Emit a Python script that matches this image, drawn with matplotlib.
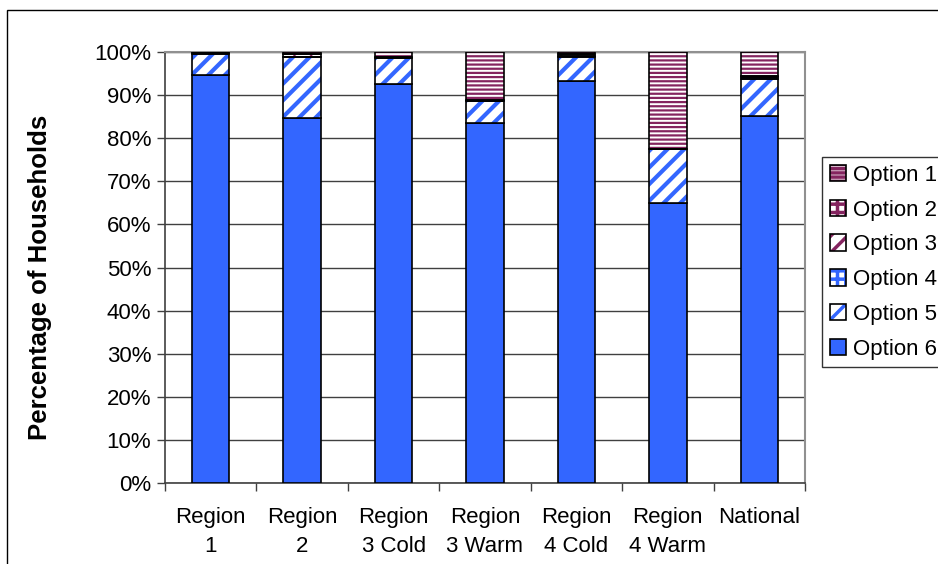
import matplotlib
matplotlib.use("Agg")
import matplotlib.pyplot as plt
from matplotlib.patches import Patch, Rectangle
import numpy as np

plt.rcParams['font.family'] = ['Liberation Sans', 'DejaVu Sans']
plt.rcParams['hatch.linewidth'] = 2.5

categories = ["Region\n1", "Region\n2", "Region\n3 Cold", "Region\n3 Warm",
              "Region\n4 Cold", "Region\n4 Warm", "National"]
series_names = ["Option 1", "Option 2", "Option 3", "Option 4", "Option 5", "Option 6"]
option6 = [94.7, 84.8, 92.6, 83.6, 93.3, 64.9, 85.1]
option5 = [4.8, 14.0, 5.9, 5.1, 5.6, 12.5, 8.6]
option4 = [0.2, 0.1, 0.1, 0.0, 0.2, 0.1, 0.4]
option3 = [0.1, 0.6, 0.2, 0.0, 0.5, 0.0, 0.2]
option2 = [0.0, 0.1, 0.0, 0.1, 0.0, 0.0, 0.1]
option1 = [0.2, 0.4, 1.2, 11.2, 0.4, 22.5, 5.6]
yticks = [0, 10, 20, 30, 40, 50, 60, 70, 80, 90, 100]
ytick_labels = [f"{v}%" for v in yticks]

blue = '#3366FF'
purple = '#84245F'
# stacking order bottom -> top
stack = [
    ("Option 6", option6, dict(fc=blue, hatch=None, hc=blue, hlw=1)),
    ("Option 5", option5, dict(fc='white', hatch='//', hc=blue, hlw=3.0)),
    ("Option 4", option4, dict(fc='white', hatch='++', hc=blue, hlw=3.0)),
    ("Option 3", option3, dict(fc='white', hatch='//', hc=purple, hlw=1.2)),
    ("Option 2", option2, dict(fc='white', hatch='++', hc=purple, hlw=1.5)),
    ("Option 1", option1, dict(fc='white', hatch='----', hc=purple, hlw=1.6)),
]


def set_hlw(artist, lw):
    try:
        artist.set_hatch_linewidth(lw)
    except AttributeError:
        pass


fig = plt.figure(figsize=(9.38, 5.64), dpi=100)
ax = fig.add_axes([165/938, 1-483/564, (805-165)/938, (483-52)/564])

x = np.arange(len(categories))
w = 0.41
bottom = np.zeros(len(categories))
handles = {}
for name, vals, st in stack:
    vals = np.array(vals)
    if st['hatch'] is None:
        ax.bar(x, vals, w, bottom=bottom, color=st['fc'], edgecolor='black',
               linewidth=1.2, zorder=3)
        h = Patch(facecolor=st['fc'], edgecolor='black', linewidth=1.2)
    else:
        with plt.rc_context({'hatch.linewidth': st['hlw']}):
            bars = ax.bar(x, vals, w, bottom=bottom, facecolor=st['fc'], edgecolor=st['hc'],
                          hatch=st['hatch'], linewidth=0, zorder=3)
            hp = Patch(facecolor=st['fc'], edgecolor=st['hc'], hatch=st['hatch'], linewidth=0)
        for b in bars:
            set_hlw(b, st['hlw'])
        set_hlw(hp, st['hlw'])
        ax.bar(x, vals, w, bottom=bottom, fill=False, edgecolor='black',
               linewidth=1.2, zorder=4)
        h = (hp, Patch(fill=False, edgecolor='black', linewidth=1.2))
    handles[name] = h
    bottom += vals

ax.set_xlim(-0.5, len(categories) - 0.5)
ax.set_ylim(0, 100)
ax.set_yticks(yticks)
ax.set_yticklabels(ytick_labels, fontsize=16)
ax.set_xticks(x)
ax.set_xticklabels(categories, fontsize=16, linespacing=1.5)
ax.tick_params(axis='x', which='major', length=0, pad=17)
ax.set_xticks(np.arange(len(categories) + 1) - 0.5, minor=True)
ax.tick_params(axis='x', which='minor', length=6, width=1, color='#404040')
ax.tick_params(axis='y', length=6, width=1, color='#404040', pad=4)
ax.grid(axis='y', color='#404040', linewidth=1, zorder=0)
ax.set_axisbelow(True)
for s in ['left', 'bottom']:
    ax.spines[s].set_color('#404040')
    ax.spines[s].set_linewidth(1.2)
for s in ['top', 'right']:
    ax.spines[s].set_color('#909090')
    ax.spines[s].set_linewidth(1.5)
ax.set_ylabel("Percentage of Households", fontsize=18.5, fontweight='bold')
ax.yaxis.set_label_coords(-0.177, 0.477)

leg = fig.legend([handles[n] for n in series_names], series_names,
                 loc='upper left', bbox_to_anchor=(822/938, 1-157/564),
                 fontsize=16, frameon=True, fancybox=False, edgecolor='black',
                 handlelength=0.75, handleheight=0.75, handletextpad=0.3,
                 labelspacing=0.62, borderpad=0.35, borderaxespad=0)
leg.get_frame().set_linewidth(1.0)

# outer chart border (partially outside the image)
fig.patches.append(Rectangle((7/938, -0.1), 1.2, 1.1 - 10/564,
                             transform=fig.transFigure, fill=False,
                             edgecolor='black', linewidth=1.0))

fig.savefig("out.png", dpi=100)
